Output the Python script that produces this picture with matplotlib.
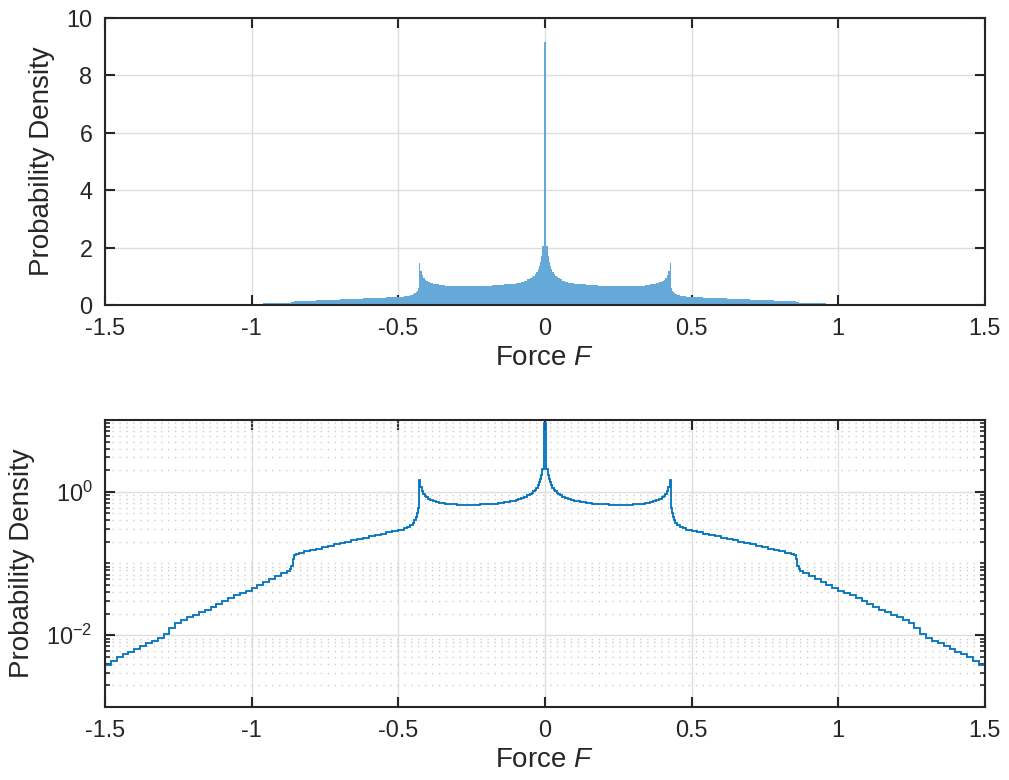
import numpy as np
import matplotlib
matplotlib.use("Agg")
import matplotlib.pyplot as plt
import matplotlib.ticker as mticker

plt.rcParams['font.family'] = ['Liberation Sans', 'DejaVu Sans']
plt.rcParams['mathtext.fontset'] = 'custom'
plt.rcParams['mathtext.rm'] = 'Liberation Sans'
plt.rcParams['mathtext.it'] = 'Liberation Sans:italic'

# right half of the (symmetric) force histogram
# bin edges for F > 0 and the pdf value of each bin
EDGES_RIGHT = [0.004, 0.010, 0.013, 0.016, 0.020, 0.025, 0.030, 0.035, 0.040, 0.045,
               0.050, 0.060, 0.070, 0.080, 0.090, 0.100,
               0.12, 0.14, 0.16, 0.18, 0.20, 0.22, 0.24, 0.26, 0.28, 0.30, 0.32, 0.34,
               0.35, 0.36, 0.37, 0.38, 0.39, 0.40,
               0.405, 0.41, 0.415, 0.42, 0.425, 0.43,
               0.433, 0.436, 0.44, 0.445, 0.45, 0.46, 0.47, 0.48,
               0.50, 0.52, 0.54, 0.56, 0.58, 0.60, 0.62, 0.64, 0.66, 0.68, 0.70, 0.72,
               0.74, 0.76, 0.78, 0.80, 0.82, 0.84,
               0.85, 0.855, 0.86, 0.865, 0.87, 0.88,
               0.90, 0.92, 0.94, 0.96, 0.98, 1.00, 1.02, 1.04, 1.06, 1.08, 1.10,
               1.12, 1.14, 1.16, 1.18, 1.20, 1.22, 1.24, 1.26, 1.28, 1.30,
               1.32, 1.34, 1.36, 1.38, 1.40, 1.42, 1.44, 1.46, 1.48, 1.50]
PDF_RIGHT = [2.05, 1.70, 1.50, 1.36, 1.24, 1.14, 1.07, 1.01, 0.97, 0.93,
             0.89, 0.84, 0.81, 0.78, 0.76,
             0.74, 0.72, 0.70, 0.685, 0.675, 0.665, 0.66, 0.655, 0.655, 0.66, 0.665, 0.675,
             0.69, 0.70, 0.72, 0.74, 0.77, 0.80,
             0.84, 0.88, 0.94, 1.03, 1.18, 1.45,
             0.60, 0.50, 0.44, 0.40, 0.37, 0.345, 0.325, 0.31,
             0.295, 0.283, 0.271, 0.260, 0.249, 0.238, 0.228, 0.218, 0.209, 0.200,
             0.192, 0.184, 0.176, 0.168, 0.161, 0.154, 0.148, 0.142,
             0.137, 0.132, 0.115, 0.092, 0.084, 0.079,
             0.073, 0.066, 0.060, 0.055, 0.050, 0.046, 0.042, 0.039, 0.036, 0.033, 0.030,
             0.0275, 0.025, 0.0228, 0.0208, 0.019, 0.0178, 0.0165, 0.0148, 0.0125, 0.0103,
             0.0091, 0.0083, 0.0077, 0.0070, 0.0064, 0.0059, 0.0054, 0.0049, 0.0044, 0.0039]
PDF_CENTER = 9.15   # spike in the bin around F = 0

edges = [-e for e in EDGES_RIGHT[::-1]] + EDGES_RIGHT
pdf = PDF_RIGHT[::-1] + [PDF_CENTER] + PDF_RIGHT

XTICKS = [-1.5, -1, -0.5, 0, 0.5, 1, 1.5]
XTICKLABELS = ["-1.5", "-1", "-0.5", "0", "0.5", "1", "1.5"]

AX_COLOR = "#262626"
TICK_FS = 16.8
LABEL_FS = 20

fig = plt.figure(figsize=(10.09, 7.8), dpi=100)
ax1 = fig.add_axes([0.104, 0.609, 0.872, 0.368])
ax2 = fig.add_axes([0.104, 0.0936, 0.872, 0.368])


def style_axes(ax):
    for sp in ax.spines.values():
        sp.set_linewidth(1.5)
        sp.set_color(AX_COLOR)
    ax.tick_params(which="both", direction="in", top=True, right=True,
                   colors=AX_COLOR, labelsize=TICK_FS, pad=9)
    ax.tick_params(which="major", length=7.2, width=1.5)
    ax.tick_params(which="minor", length=3.6, width=1.2)
    ax.set_xlim(-1.5, 1.5)
    ax.set_xticks(XTICKS)
    ax.set_xticklabels(XTICKLABELS)
    ax.set_xlabel("Force $F$", fontsize=LABEL_FS, color=AX_COLOR, labelpad=3)
    ax.set_ylabel("Probability Density", fontsize=LABEL_FS, color=AX_COLOR, labelpad=8)
    ax.set_axisbelow(True)


# top: linear pdf, filled bars
ax1.stairs(pdf, edges, fill=True, facecolor="#64A9D8", linewidth=0, baseline=0)
ax1.set_ylim(0, 10)
ax1.set_yticks([0, 2, 4, 6, 8, 10])
ax1.grid(True, which="major", color="#dedede", linewidth=1.0)
style_axes(ax1)

# bottom: log pdf, stairs line
ax2.stairs(pdf, edges, color="#0072BD", linewidth=1.3, baseline=None)
ax2.set_yscale("log")
ax2.set_ylim(1e-3, 10)
ax2.yaxis.set_major_locator(mticker.FixedLocator([1e-2, 1e0]))
minor = [k * 10.0 ** n for n in range(-3, 1) for k in range(1, 10)
         if not (k == 1 and n in (-2, 0))] + [10.0]
ax2.yaxis.set_minor_locator(mticker.FixedLocator(minor))
ax2.yaxis.set_major_formatter(mticker.FuncFormatter(lambda v, _: r"$10^{%d}$" % round(np.log10(v))))
ax2.yaxis.set_minor_formatter(mticker.NullFormatter())
ax2.grid(True, which="major", color="#dedede", linewidth=1.0)
ax2.grid(True, which="minor", axis="y", color="#cccccc", linewidth=1.0, linestyle=(0, (1, 4)))
style_axes(ax2)

fig.savefig("out.png", dpi=100)
